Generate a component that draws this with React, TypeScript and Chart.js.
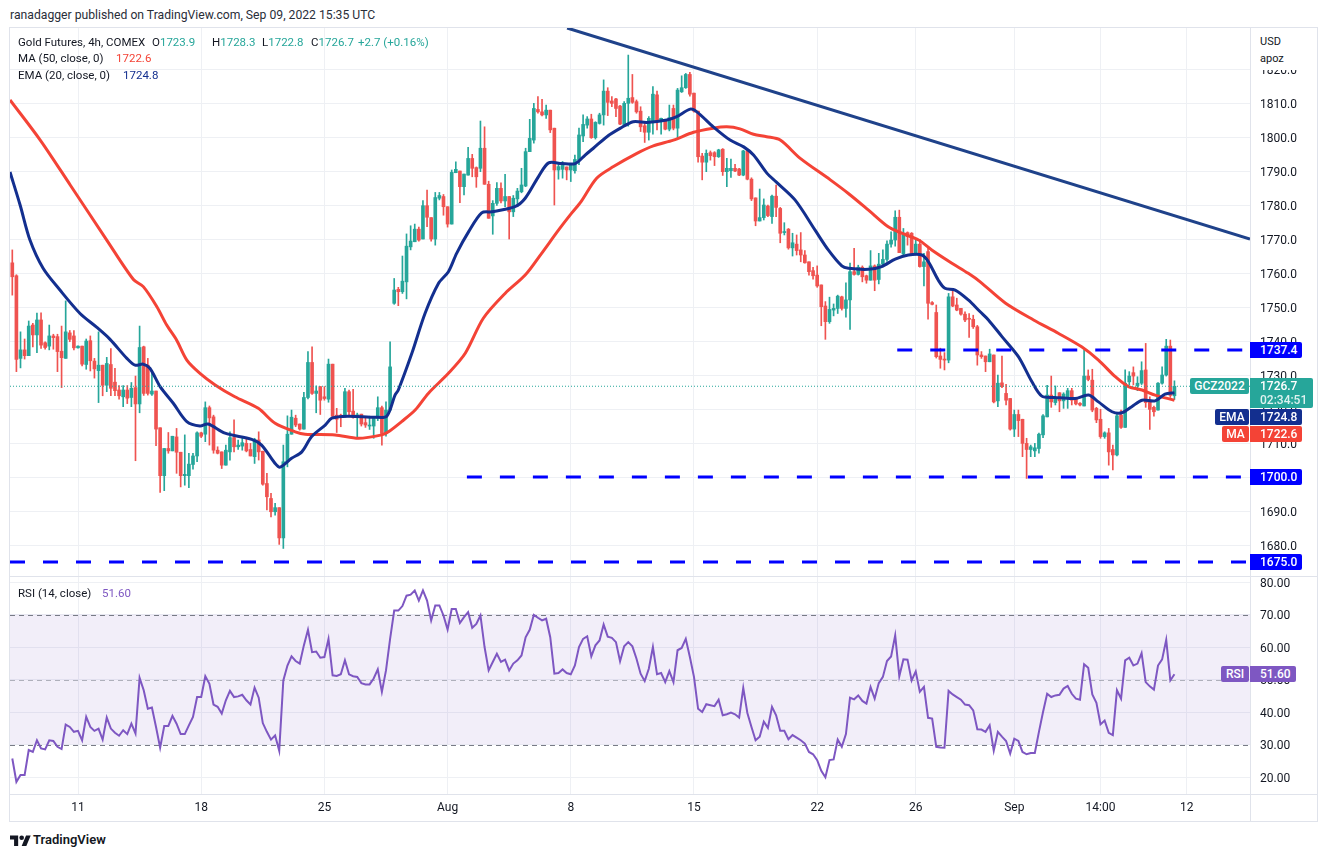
import React, { useEffect, useRef } from "react";
import { Chart, registerables } from "chart.js";

Chart.register(...registerables);

// ---------------- DATA ----------------
const candleOpen = [
  1763.0,1759.2,1734.9,1737.4,1735.7,1744.7,1741.8,1746.2,1739.5,1738.5,
  1741.5,1741.3,1737.0,1734.9,1742.4,1741.5,1738.0,1738.5,1733.1,1740.1,
  1734.1,1731.3,1732.9,1727.0,1733.1,1727.9,1725.6,1723.6,1725.6,1723.4,
  1726.3,1721.5,1738.3,1732.9,1724.4,1725.3,1714.5,1700.4,1708.4,1707.7,
  1711.8,1707.3,1700.4,1700.4,1703.7,1706.2,1713.0,1712.6,1720.4,1717.7,
  1707.9,1707.4,1703.5,1707.4,1711.6,1708.9,1709.1,1709.9,1708.1,1706.0,
  1710.9,1707.6,1698.1,1693.7,1689.8,1691.0,1682.1,1704.5,1712.6,1717.3,
  1715.6,1714.1,1723.4,1733.7,1724.6,1726.6,1723.6,1722.9,1733.2,1718.2,
  1718.2,1718.2,1725.1,1719.4,1718.0,1718.5,1716.0,1715.0,1715.0,1717.3,
  1720.4,1712.8,1719.7,1751.1,1755.2,1754.5,1757.4,1767.7,1769.2,1772.9,
  1770.0,1779.8,1776.3,1770.0,1782.0,1782.5,1779.5,1774.4,1789.5,1790.0,
  1785.4,1788.8,1793.7,1791.0,1790.8,1796.7,1786.1,1776.8,1780.5,1784.9,
  1781.2,1782.5,1778.0,1781.8,1783.9,1785.6,1795.7,1799.1,1808.1,1807.4,
  1806.5,1807.9,1802.6,1790.3,1790.5,1791.2,1790.3,1790.1,1793.2,1800.3,
  1803.5,1805.3,1799.8,1804.0,1806.5,1813.5,1810.6,1811.2,1809.1,1803.7,
  1809.9,1811.6,1810.4,1807.6,1803.3,1801.4,1804.5,1812.4,1804.5,1805.0,
  1802.3,1808.4,1802.6,1813.3,1814.5,1818.4,1812.9,1807.6,1794.4,1792.6,
  1795.4,1795.4,1794.2,1796.4,1789.8,1790.1,1790.8,1790.6,1788.8,1795.9,
  1787.6,1782.1,1775.3,1776.3,1779.7,1776.6,1782.6,1779.0,1771.9,1772.9,
  1767.4,1768.5,1766.8,1765.3,1763.3,1760.7,1759.4,1756.5,1750.3,1745.7,
  1749.1,1749.6,1753.0,1749.6,1752.1,1760.4,1759.6,1761.7,1759.2,1757.9,
  1762.1,1758.1,1762.6,1764.0,1768.5,1769.7,1776.4,1765.6,1771.9,1771.7,
  1765.6,1768.5,1761.9,1766.3,1751.3,1748.4,1735.6,1734.7,1734.4,1753.0,
  1750.6,1749.6,1747.9,1746.7,1746.4,1744.2,1735.9,1735.6,1733.9,1735.9,
  1722.4,1727.7,1724.6,1723.1,1714.1,1718.4,1717.0,1709.9,1708.1,1707.7,
  1708.4,1712.4,1717.7,1724.1,1721.9,1724.8,1722.4,1723.1,1725.4,1722.9,
  1721.7,1720.9,1729.7,1728.5,1720.2,1717.0,1711.9,1713.0,1708.1,1706.5,
  1718.2,1714.6,1728.0,1730.7,1726.9,1727.6,1731.5,1722.1,1720.5,1719.7,
  1727.6,1730.0,1738.5,1723.9
];
const candleHigh = [
  1766.8,1759.5,1742.7,1740.6,1745.9,1745.2,1748.2,1748.3,1739.8,1744.7,
  1742.0,1742.0,1744.4,1751.8,1743.1,1743.1,1738.6,1738.5,1740.6,1741.5,
  1734.9,1742.7,1732.9,1735.2,1737.8,1732.0,1726.9,1726.9,1726.9,1727.8,
  1729.7,1744.4,1738.5,1734.9,1731.3,1725.3,1714.5,1708.4,1713.1,1712.0,
  1714.3,1707.3,1712.4,1707.0,1707.0,1713.3,1713.2,1722.1,1720.9,1718.2,
  1708.9,1707.4,1709.4,1713.3,1716.8,1710.9,1711.4,1711.4,1709.9,1711.4,
  1713.3,1707.6,1701.1,1695.2,1692.3,1691.0,1709.4,1718.0,1719.7,1718.2,
  1715.6,1724.9,1736.9,1738.3,1726.8,1726.6,1726.6,1734.7,1733.2,1720.2,
  1718.5,1726.1,1725.6,1725.8,1718.8,1718.5,1717.7,1717.9,1717.6,1723.6,
  1720.9,1722.1,1739.8,1758.4,1755.8,1765.0,1771.5,1773.9,1774.4,1773.5,
  1781.3,1784.4,1776.3,1783.7,1783.7,1783.1,1779.5,1790.3,1792.7,1790.0,
  1789.1,1797.0,1794.9,1791.2,1804.7,1803.0,1787.0,1781.3,1786.6,1786.5,
  1789.0,1782.5,1782.8,1784.9,1790.8,1796.7,1805.2,1809.9,1811.9,1811.1,
  1809.4,1807.9,1802.6,1792.3,1792.8,1791.2,1792.1,1794.7,1802.6,1806.5,
  1806.0,1806.7,1804.5,1807.0,1816.8,1814.5,1811.9,1811.4,1809.3,1810.4,
  1824.1,1818.4,1810.9,1808.9,1804.0,1806.0,1814.8,1813.5,1805.6,1805.2,
  1809.4,1809.4,1814.3,1818.0,1818.7,1819.0,1812.9,1807.6,1795.2,1796.2,
  1795.9,1795.7,1796.4,1796.6,1793.7,1793.5,1792.0,1790.8,1796.1,1796.2,
  1788.0,1782.1,1784.7,1781.8,1780.0,1782.9,1785.9,1779.3,1774.8,1773.1,
  1771.7,1771.2,1771.9,1766.6,1763.3,1761.7,1762.1,1756.5,1751.6,1752.9,
  1750.9,1753.5,1753.2,1757.1,1762.9,1767.3,1762.3,1762.1,1759.4,1766.6,
  1762.4,1765.8,1766.8,1769.5,1772.1,1778.3,1778.5,1773.1,1772.1,1771.9,
  1770.2,1769.9,1765.8,1767.3,1751.6,1750.6,1737.9,1736.6,1754.0,1755.5,
  1752.6,1749.6,1748.6,1748.1,1747.6,1744.6,1736.9,1735.6,1737.6,1735.9,
  1730.0,1735.6,1727.3,1723.1,1719.7,1719.7,1717.0,1711.4,1709.4,1709.9,
  1712.9,1718.4,1727.0,1729.7,1726.8,1724.8,1724.8,1726.1,1726.1,1722.9,
  1721.9,1737.4,1731.5,1731.7,1720.5,1719.9,1713.3,1714.3,1709.4,1718.5,
  1719.7,1731.5,1731.0,1732.4,1729.5,1733.9,1739.3,1723.6,1720.9,1727.8,
  1732.4,1740.5,1740.3,1728.3
];
const candleLow = [
  1753.5,1731.0,1732.1,1734.7,1735.7,1738.3,1736.6,1737.8,1737.6,1737.4,
  1737.6,1731.0,1726.3,1734.9,1739.8,1737.4,1737.9,1732.7,1731.7,1731.2,
  1729.1,1721.9,1723.9,1725.1,1723.9,1723.9,1722.9,1720.7,1721.6,1720.7,
  1704.8,1718.9,1724.0,1724.1,1724.0,1709.2,1695.5,1696.0,1707.0,1707.7,
  1701.1,1697.1,1697.6,1696.9,1702.3,1704.5,1711.6,1710.4,1709.4,1707.0,
  1706.8,1702.5,1703.5,1705.0,1707.4,1708.1,1707.9,1707.4,1706.2,1704.0,
  1705.0,1697.6,1690.3,1688.3,1688.8,1680.2,1679.0,1703.0,1712.6,1714.8,
  1713.8,1714.1,1723.0,1724.3,1718.9,1718.4,1722.6,1722.0,1717.6,1713.1,
  1714.8,1717.6,1717.7,1717.3,1711.7,1715.0,1714.6,1714.0,1711.4,1716.6,
  1709.4,1712.0,1719.7,1750.8,1750.4,1754.0,1752.4,1766.8,1769.2,1769.4,
  1770.0,1773.6,1769.4,1768.2,1781.5,1777.0,1773.5,1774.4,1789.5,1780.7,
  1783.0,1788.8,1788.3,1785.2,1789.8,1786.1,1776.1,1771.4,1779.9,1780.6,
  1779.5,1770.0,1776.6,1779.5,1783.6,1785.4,1795.7,1798.2,1807.0,1806.2,
  1805.5,1801.3,1780.0,1787.6,1787.9,1787.4,1786.9,1789.4,1791.9,1798.6,
  1802.6,1799.6,1799.4,1803.8,1803.5,1806.3,1808.9,1806.0,1803.6,1803.5,
  1803.2,1809.9,1807.0,1801.6,1798.4,1799.1,1800.8,1802.1,1800.8,1802.1,
  1801.8,1802.1,1799.6,1813.1,1814.3,1812.0,1807.3,1792.6,1787.4,1789.8,
  1793.2,1791.6,1794.0,1788.7,1785.4,1788.1,1789.8,1788.6,1788.6,1787.4,
  1781.3,1773.9,1775.3,1775.6,1776.6,1774.6,1776.6,1768.9,1771.2,1767.0,
  1765.0,1765.3,1763.3,1762.9,1759.4,1758.2,1755.8,1744.5,1740.5,1745.2,
  1747.4,1748.1,1749.1,1747.0,1743.4,1759.4,1759.4,1757.4,1757.0,1757.9,
  1754.8,1756.8,1762.3,1763.4,1767.6,1767.9,1766.0,1765.3,1768.2,1765.6,
  1765.3,1761.7,1756.2,1746.4,1750.6,1735.0,1732.0,1731.5,1733.6,1750.1,
  1748.9,1747.6,1745.7,1741.1,1743.7,1732.9,1734.9,1731.0,1733.9,1721.8,
  1720.7,1726.3,1721.2,1713.8,1711.9,1711.9,1706.0,1699.6,1706.0,1706.0,
  1707.0,1711.6,1717.7,1720.5,1721.2,1719.2,1720.2,1720.2,1721.2,1721.2,
  1720.9,1720.9,1728.3,1719.2,1716.0,1711.4,1711.4,1703.5,1702.1,1706.2,
  1714.3,1714.6,1727.1,1727.1,1725.4,1727.2,1720.5,1714.0,1717.9,1719.7,
  1727.3,1729.7,1723.4,1722.8
];
const candleClose = [
  1758.9,1734.6,1737.4,1735.7,1744.4,1741.8,1746.2,1738.8,1738.1,1741.5,
  1741.0,1736.9,1735.1,1742.7,1740.5,1738.0,1738.5,1733.2,1740.0,1734.2,
  1731.8,1732.9,1727.0,1733.4,1726.1,1725.4,1723.9,1725.6,1723.2,1726.1,
  1721.5,1738.1,1724.6,1724.6,1725.3,1714.1,1700.4,1708.4,1707.7,1712.0,
  1707.3,1700.4,1700.8,1703.8,1706.2,1713.0,1712.0,1720.4,1717.4,1707.9,
  1707.0,1703.5,1707.9,1711.6,1708.9,1709.4,1710.1,1707.7,1706.2,1711.1,
  1707.4,1697.9,1694.2,1689.8,1691.0,1682.1,1704.5,1712.6,1717.6,1715.3,
  1714.1,1723.4,1733.7,1724.6,1725.3,1722.6,1723.1,1733.2,1717.9,1717.0,
  1717.7,1725.1,1719.2,1717.6,1718.3,1715.6,1715.3,1715.3,1717.6,1720.4,
  1712.8,1719.7,1732.4,1755.0,1754.5,1757.6,1767.9,1769.4,1772.9,1769.7,
  1779.8,1776.4,1770.0,1782.2,1782.8,1779.5,1774.4,1789.6,1790.5,1785.4,
  1789.1,1793.7,1790.8,1788.3,1796.7,1786.1,1776.1,1780.5,1784.9,1781.2,
  1782.5,1778.0,1782.0,1784.1,1785.9,1795.7,1799.6,1808.4,1807.4,1806.5,
  1807.9,1802.1,1790.3,1791.3,1792.1,1790.3,1792.1,1793.4,1800.6,1803.7,
  1805.3,1799.8,1804.3,1806.5,1813.5,1810.2,1809.9,1808.4,1803.8,1809.9,
  1811.4,1810.2,1807.4,1803.0,1801.4,1805.5,1812.6,1804.5,1805.5,1802.3,
  1805.7,1802.6,1813.8,1814.5,1818.4,1812.6,1807.6,1794.2,1792.6,1795.2,
  1794.5,1794.2,1796.2,1789.8,1790.8,1790.8,1790.0,1788.8,1795.9,1787.6,
  1781.8,1775.3,1776.3,1780.0,1776.9,1782.6,1779.3,1771.7,1772.1,1767.4,
  1768.9,1766.6,1765.3,1763.0,1760.4,1759.2,1756.2,1750.1,1745.7,1749.3,
  1749.6,1753.2,1749.6,1752.1,1760.4,1759.6,1761.7,1758.9,1757.9,1762.1,
  1757.9,1762.6,1764.0,1768.5,1769.7,1776.4,1766.0,1771.7,1770.7,1765.6,
  1768.5,1761.9,1763.3,1751.1,1750.8,1735.4,1734.6,1734.4,1753.0,1750.3,
  1749.1,1747.9,1746.2,1746.4,1744.2,1735.9,1735.4,1733.9,1736.2,1722.1,
  1727.6,1726.6,1722.6,1714.1,1718.4,1716.6,1709.9,1708.1,1708.9,1708.6,
  1712.6,1718.0,1724.1,1722.1,1722.9,1722.4,1724.4,1725.4,1722.6,1721.5,
  1721.2,1729.7,1728.7,1719.7,1716.8,1711.9,1713.0,1707.4,1706.5,1718.0,
  1714.6,1727.6,1729.7,1729.7,1727.6,1731.3,1721.9,1719.9,1719.2,1727.6,
  1730.0,1738.5,1724.0,1726.7
];

// MA (50), x = bar index
const maX = [-0.56,6.8,14.1,23,29.5,31.9,35.2,37.6,40,42.5,45.7,49.4,54.2,59.9,64,68.9,71.3,78.6,84.3,90,91.6,94.8,98.1,101.3,106.2,110.3,114.7,120,124.9,128.9,133,136.2,138.5,142.3,146.4,152.1,156.1,161,165.9,170.7,174,177.2,180.5,183.7,187,191.8,199.2,203.6,208.5,213.3,216.6,220.7,223.9,228.8,232.8,235.7,241.8,248.7,254.7,260.4,264.5,268.6,271.8,275.1,278.3,283];
const maY = [1810.9,1799.1,1785.9,1769.7,1758.1,1756,1750.1,1744.7,1740.3,1734.4,1730.5,1727.1,1723.6,1720.2,1715.8,1713.3,1712.6,1712.4,1711.4,1712.4,1713.3,1716.3,1719.7,1724.6,1730.5,1736.4,1746.7,1754,1759.4,1765.8,1772.6,1777.6,1781,1787.9,1791.3,1795.2,1797.4,1799.1,1801.4,1802.6,1803,1802.4,1800.8,1800.1,1799.1,1793.8,1787.4,1783.4,1778.5,1773.6,1771.7,1769.7,1766.8,1762.9,1759.9,1757.4,1751.2,1746.2,1742.3,1738.3,1734.4,1729.5,1726.6,1725.6,1724.1,1722.6];

// EMA (20), x = bar index
const emaX = [-0.56,1.9,4.3,7.5,11.6,16.5,20.6,23.8,27.9,29.9,31.9,33.5,36,39.2,42.5,45.7,47.7,51.8,58.3,60.7,64,65.2,68,70.5,72.9,76.2,77.8,81.8,88.4,91.2,93.2,94,97.3,100.5,103.8,106.2,108.2,111.1,114.3,116.8,122.4,124.9,128.1,130.6,133.8,137.1,139.5,141.5,144.8,148.1,151.2,154.5,159.4,161.8,165.1,166.7,170.7,174.8,178.1,180.5,183.8,186,190.6,195.5,198.7,202,203.6,208.5,211.7,215,218.2,221.5,223.1,225.5,227.1,229.6,232.8,235.7,237.7,241,245,248.3,250.7,253.9,258.8,262.1,264.5,267.8,270.2,272.6,275.1,278.3,280.7,283];
const emaY = [1789.7,1780,1769.7,1761.4,1755,1748.1,1744,1740.5,1734.9,1732.9,1733.2,1732,1726.6,1721.7,1716.3,1715,1715.6,1712.9,1711.1,1709.4,1704,1702.9,1705.5,1707.4,1711.9,1715.3,1717.3,1717.9,1717.6,1717.9,1724.1,1725.6,1736.4,1748.1,1757,1760.4,1765.8,1772.1,1777.7,1778,1779.5,1782,1788.3,1792.4,1792.2,1792.2,1794.7,1796.7,1800.1,1802.6,1804.5,1804.3,1805,1806,1808.2,1807.4,1803,1799.1,1797.1,1794.7,1789.3,1786.8,1781.5,1772.6,1766.8,1762.1,1761.4,1761.1,1761.9,1764.1,1765.3,1765.3,1763.3,1757.9,1755.5,1755,1752.1,1748.6,1746.2,1741.3,1735.4,1728,1723.8,1723.4,1723.1,1724.1,1722.1,1719.2,1718.9,1720.7,1722.6,1722.4,1724.4,1724.8];

// RSI (14), one value per bar
const rsiValues = [
  25.7,18.5,20.6,20.6,28.3,27.7,31.3,28.8,28.5,31.3,
  31.1,29.3,28.6,36.1,35.4,33.9,34.2,31.3,38.5,35.4,
  34.2,34.9,31.5,38.3,34.9,33.6,32.7,34.4,33.2,36.4,
  33.4,50.5,46.7,41,41.4,35.4,29,35.7,35.7,38.8,
  36.4,33.2,33.2,35.9,38.5,44.6,44.6,51,48.7,42.3,
  41.6,39.5,43.6,46.5,44.6,44.8,45.3,43.6,42.3,47.5,
  44.4,36.6,33.9,31.5,32.8,28.1,49.7,54.3,57.1,55.7,
  54.9,60.5,65.3,58.4,58.6,56.7,56.9,62.5,51.3,51.1,
  51.6,55.9,51.6,51,50.8,48.9,48.5,48.5,50.3,53.1,
  46.2,52.8,62.5,71.2,71.2,72.6,75.8,76.1,77.4,74.3,
  77.4,74.3,68.2,72.8,72.8,69.7,65.4,71.7,71.7,67.4,
  69.2,70.7,65.9,67.1,69.7,60,52.8,55.4,57.9,55.4,
  56.1,52.8,54.9,55.9,57.4,63,65.3,69.9,69,68.2,
  68.7,63,51.8,52,53.1,52,51.6,54.3,60,62.5,
  63.3,57.1,60.5,62,66.9,63.2,62.8,61.5,55.6,60.2,
  61.5,60.2,56.4,51.8,49.5,53.3,60,51.6,52,49.2,
  52.6,49.2,59,59.7,62.5,56.9,50.8,41,40,42.4,
  42.1,41.8,43.8,39,39.3,39.8,39.3,38.3,47.4,39.7,
  35.4,31.3,32.4,37,35.1,41.6,39,34.2,34.2,31.6,
  32.9,32.1,31.3,30.3,27.7,27,25.2,21.9,19.9,25.2,
  25.4,31.5,29.3,33.2,44.4,43.9,45.1,43.4,42.6,47.7,
  44.1,48.9,50.8,55.7,57.1,63.6,51,56.2,56.1,49.7,
  52.5,46.2,47.7,38.2,38,29.3,29.1,29,46.5,45.4,
  44.6,43.8,42.3,42.1,40.5,34.7,34.6,33.9,35.9,28.1,
  33.9,32.4,31.1,27.2,31.8,31.1,27.7,27,27.4,27.4,
  33.9,40,45.6,44.6,45.1,45.3,47.2,48,45.6,44.1,
  43.8,54.7,53.6,45.4,42.8,36.2,37.4,33.6,32.9,46.7,
  44.1,55.9,56.7,54.3,54.9,58.1,49.2,47.9,46.9,54.3,
  56.2,62.2,49.7,51.6
];

// trend line and horizontal levels
const trendX = [135.1, 301.4];
const trendY = [1832.06, 1770.0];
const levelPrices = [1737.4, 1700.0, 1675.0];
const levelStartX = [215.5, 110.7, -0.56];
const rsiBands = [70, 50, 30];

// axis ticks
const priceTicks = [1680,1690,1700,1710,1720,1730,1740,1750,1760,1770,1780,1790,1800,1810,1820];
const rsiTicks = [20,30,40,50,60,70,80];
const dateTickX = [16,46,76,106,136,166,196,220,244,265,286];
const dateTickLabels = ["11","18","25","Aug","8","15","22","26","Sep","14:00","12"];

// ---------------- STYLE ----------------
const FONT = "Roboto, 'Noto Sans', 'DejaVu Sans', sans-serif";
const UP = "#26a69a";
const DOWN = "#ef5350";
const MA_C = "#f44336";
const EMA_C = "#132f8f";
const RSI_C = "#7e57c2";
const LEVEL_C = "#0000ff";
const TREND_C = "#1f428a";
const GRID = "#eef0f4";
const BORDER = "#e0e3eb";
const TEXT = "#131722";

const X_MIN = -0.56, X_MAX = 301.4;
const P_MIN = 1670.9, P_MAX = 1832.06;
const R_MIN = 14.77, R_MAX = 81.54;

const MAIN_TOP = 28, MAIN_H = 548;
const RSI_TOP = 577, RSI_H = 245;
const priceY = (p: number) => MAIN_TOP + (P_MAX - p) * MAIN_H / (P_MAX - P_MIN);

const zeroPad = (s: any) => { s.paddingTop = 0; s.paddingBottom = 0; s.paddingLeft = 0; s.paddingRight = 0; };

function Txt(props: any) {
  const { x, y, children, size = 11.5, color = TEXT, weight = 400 } = props;
  return (
    <div style={{ position: "absolute", left: x, top: y, transform: "translateY(-50%)", fontSize: size, color, fontWeight: weight, whiteSpace: "nowrap", lineHeight: 1, fontFamily: FONT }}>
      {children}
    </div>
  );
}

function Box(props: any) {
  const { l, t, w, h, bg, children, center = false, radius = "0 2px 2px 0" } = props;
  return (
    <div style={{ position: "absolute", left: l, top: t, width: w, height: h, background: bg, color: "#fff", fontFamily: FONT, fontSize: 12, fontWeight: 500, lineHeight: h + "px", paddingLeft: center ? 0 : 10, textAlign: center ? "center" : "left", boxSizing: "border-box", borderRadius: radius, whiteSpace: "nowrap" }}>
      {children}
    </div>
  );
}

export default function App() {
  const mainRef = useRef<HTMLCanvasElement | null>(null);
  const rsiRef = useRef<HTMLCanvasElement | null>(null);

  const n = candleClose.length;
  const lastO = candleOpen[n - 1], lastH = candleHigh[n - 1], lastL = candleLow[n - 1], lastC = candleClose[n - 1];
  const chg = lastC - candleClose[n - 2];
  const chgPct = (chg / candleClose[n - 2]) * 100;
  const maLast = maY[maY.length - 1];
  const emaLast = emaY[emaY.length - 1];
  const rsiLast = rsiValues[rsiValues.length - 1];

  useEffect(() => {
    if (!mainRef.current || !rsiRef.current) return;
    const idx = candleClose.map((_, i) => i);
    const colors = idx.map((i) => (candleClose[i] >= candleOpen[i] ? UP : DOWN));
    const pts = (xs: number[], ys: number[]) => xs.map((x, i) => ({ x, y: ys[i] }));

    const levelSets = levelPrices.map((p, k) => ({
      type: "line",
      data: [{ x: levelStartX[k], y: p }, { x: X_MAX, y: p }],
      borderColor: LEVEL_C, borderWidth: 3, borderDash: [15, 18], borderCapStyle: "butt",
      pointRadius: 0, order: 0,
    }));

    const main = new Chart(mainRef.current, {
      type: "bar",
      data: {
        datasets: [
          ...levelSets,
          { type: "line", data: [{ x: X_MIN, y: lastC }, { x: X_MAX, y: lastC }], borderColor: UP, borderWidth: 1, borderDash: [1, 2], pointRadius: 0, order: 1 },
          { type: "line", data: pts(trendX, trendY), borderColor: TREND_C, borderWidth: 3, pointRadius: 0, order: 2 },
          { type: "line", data: pts(emaX, emaY), borderColor: EMA_C, borderWidth: 3, pointRadius: 0, tension: 0.3, order: 3 },
          { type: "line", data: pts(maX, maY), borderColor: MA_C, borderWidth: 3, pointRadius: 0, tension: 0.3, order: 4 },
          { type: "bar", data: idx.map((i) => ({ x: i, y: [candleOpen[i], candleClose[i]] })), backgroundColor: colors, barThickness: 3, minBarLength: 1, grouped: false, borderWidth: 0, borderSkipped: false, order: 5 },
          { type: "bar", data: idx.map((i) => ({ x: i, y: [candleLow[i], candleHigh[i]] })), backgroundColor: colors, barThickness: 1, grouped: false, borderWidth: 0, borderSkipped: false, order: 6 },
        ] as any,
      },
      options: {
        animation: false, responsive: false, maintainAspectRatio: false, events: [],
        layout: { padding: 0 },
        plugins: { legend: { display: false }, tooltip: { enabled: false } },
        scales: {
          x: {
            type: "linear", min: X_MIN, max: X_MAX, offset: false,
            afterBuildTicks: (s: any) => { s.ticks = dateTickX.map((v) => ({ value: v })); },
            afterFit: (s: any) => { s.height = 0; zeroPad(s); },
            ticks: { display: false },
            grid: { color: GRID, drawTicks: false, offset: false },
            border: { display: false },
          },
          y: {
            type: "linear", position: "right", min: P_MIN, max: P_MAX, beginAtZero: false,
            afterBuildTicks: (s: any) => { s.ticks = priceTicks.map((v) => ({ value: v })); },
            afterFit: (s: any) => { s.width = 68; zeroPad(s); },
            ticks: { color: TEXT, font: { family: FONT, size: 12 }, padding: 10, labelOffset: 1.5, callback: (v: any) => Number(v).toFixed(1) },
            grid: { color: GRID, drawTicks: false },
            border: { display: false },
          },
        },
      } as any,
    });

    const bandPlugin = {
      id: "rsiBand",
      beforeDatasetsDraw(chart: any) {
        const { ctx, chartArea, scales } = chart;
        const y = scales.y;
        const top = y.getPixelForValue(rsiBands[0]);
        const bot = y.getPixelForValue(rsiBands[2]);
        ctx.save();
        ctx.fillStyle = "rgba(126,87,194,0.1)";
        ctx.fillRect(chartArea.left, top, chartArea.right - chartArea.left, bot - top);
        ctx.lineWidth = 1;
        ctx.setLineDash([5, 4]);
        rsiBands.forEach((v, k) => {
          const py = Math.round(y.getPixelForValue(v)) + 0.5;
          ctx.strokeStyle = k === 1 ? "rgba(120,123,134,0.55)" : "#787b86";
          ctx.beginPath();
          ctx.moveTo(chartArea.left, py);
          ctx.lineTo(chartArea.right, py);
          ctx.stroke();
        });
        ctx.restore();
      },
    };

    const rsi = new Chart(rsiRef.current, {
      type: "line",
      data: {
        datasets: [
          { data: rsiValues.map((v, i) => ({ x: i, y: v })), borderColor: RSI_C, borderWidth: 2, pointRadius: 0, tension: 0 },
        ],
      },
      options: {
        animation: false, responsive: false, maintainAspectRatio: false, events: [],
        layout: { padding: 0 },
        plugins: { legend: { display: false }, tooltip: { enabled: false } },
        scales: {
          x: {
            type: "linear", min: X_MIN, max: X_MAX, offset: false,
            afterBuildTicks: (s: any) => { s.ticks = dateTickX.map((v) => ({ value: v })); },
            afterFit: (s: any) => { s.height = 28; zeroPad(s); },
            ticks: {
              color: TEXT, font: { family: FONT, size: 12 }, padding: 7, autoSkip: false, maxRotation: 0,
              callback: (v: any) => { const k = dateTickX.indexOf(Number(v)); return k >= 0 ? dateTickLabels[k] : ""; },
            },
            grid: { color: GRID, drawTicks: false, offset: false },
            border: { display: false },
          },
          y: {
            type: "linear", position: "right", min: R_MIN, max: R_MAX,
            afterBuildTicks: (s: any) => { s.ticks = rsiTicks.map((v) => ({ value: v })); },
            afterFit: (s: any) => { s.width = 68; zeroPad(s); },
            ticks: { color: TEXT, font: { family: FONT, size: 12 }, padding: 10, labelOffset: 1.5, callback: (v: any) => Number(v).toFixed(2) },
            grid: { color: GRID, drawTicks: false },
            border: { display: false },
          },
        },
      } as any,
      plugins: [bandPlugin],
    });

    return () => { main.destroy(); rsi.destroy(); };
  }, []);

  const lineDiv = (l: number, t: number, w: number, h: number) => (
    <div style={{ position: "absolute", left: l, top: t, width: w, height: h, background: BORDER }} />
  );

  return (
    <div style={{ position: "absolute", left: 0, top: 0, width: 1328, height: 857, background: "#fff", overflow: "hidden", fontFamily: FONT }}>
      <Txt x={10} y={15} size={12.2} color="#2a2e39">ranadagger published on TradingView.com, Sep 09, 2022 15:35 UTC</Txt>

      <canvas ref={mainRef} width={1308} height={MAIN_H} style={{ position: "absolute", left: 10, top: MAIN_TOP, width: 1308, height: MAIN_H }} />
      <canvas ref={rsiRef} width={1308} height={RSI_H} style={{ position: "absolute", left: 10, top: RSI_TOP, width: 1308, height: RSI_H }} />

      {/* frame */}
      <div style={{ position: "absolute", left: 9, top: 27, width: 1309, height: 795, border: "1px solid " + BORDER, boxSizing: "border-box" }} />
      {lineDiv(10, 576, 1307, 1)}
      {lineDiv(10, 794, 1307, 1)}
      {lineDiv(1250, 28, 1, 793)}

      {/* price scale header */}
      <div style={{ position: "absolute", left: 1251, top: 28, width: 66, height: 42, background: "#fff" }} />
      <Txt x={1260} y={41} size={11}>USD</Txt>
      <Txt x={1260} y={58} size={11}>apoz</Txt>

      {/* legend */}
      <Txt x={18} y={43}>Gold Futures, 4h, COMEX</Txt>
      <Txt x={152} y={43}>O<span style={{ color: UP }}>{lastO.toFixed(1)}</span></Txt>
      <Txt x={212} y={43}>H<span style={{ color: UP }}>{lastH.toFixed(1)}</span></Txt>
      <Txt x={262} y={43}>L<span style={{ color: UP }}>{lastL.toFixed(1)}</span></Txt>
      <Txt x={311} y={43}>C<span style={{ color: UP }}>{lastC.toFixed(1)}</span></Txt>
      <Txt x={358} y={43} color={UP}>{(chg >= 0 ? "+" : "") + chg.toFixed(1) + " (" + (chgPct >= 0 ? "+" : "") + chgPct.toFixed(2) + "%)"}</Txt>
      <Txt x={18} y={59}>MA (50, close, 0)</Txt>
      <Txt x={116} y={59} color={MA_C}>{maLast.toFixed(1)}</Txt>
      <Txt x={18} y={76}>EMA (20, close, 0)</Txt>
      <Txt x={123} y={76} color={EMA_C}>{emaLast.toFixed(1)}</Txt>

      <Txt x={18} y={594}>RSI (14, close)</Txt>
      <Txt x={102} y={594} color={RSI_C}>{rsiLast.toFixed(2)}</Txt>

      {/* price scale labels */}
      {levelPrices.map((p, k) => (
        <Box key={k} l={1250} t={Math.round(priceY(p)) - 8} w={52} h={16} bg={LEVEL_C}>{p.toFixed(1)}</Box>
      ))}
      <Box l={1190} t={378} w={59} h={16} bg={UP} center radius="2px">GCZ2022</Box>
      <div style={{ position: "absolute", left: 1250, top: 378, width: 63, height: 30, background: UP, color: "#fff", fontFamily: FONT, fontSize: 12, fontWeight: 500, borderRadius: "0 2px 2px 0" }}>
        <div style={{ position: "absolute", left: 10, top: 2, lineHeight: "13px" }}>{lastC.toFixed(1)}</div>
        <div style={{ position: "absolute", left: 10, top: 16, lineHeight: "13px", color: "rgba(255,255,255,0.85)" }}>02:34:51</div>
      </div>
      <Box l={1215} t={409} w={34} h={16} bg={EMA_C} center radius="2px">EMA</Box>
      <Box l={1250} t={409} w={52} h={16} bg={EMA_C}>{emaLast.toFixed(1)}</Box>
      <Box l={1222} t={426} w={27} h={16} bg={MA_C} center radius="2px">MA</Box>
      <Box l={1250} t={426} w={52} h={16} bg={MA_C}>{maLast.toFixed(1)}</Box>
      <Box l={1221} t={666} w={28} h={16} bg={RSI_C} center radius="2px">RSI</Box>
      <Box l={1250} t={666} w={46} h={16} bg={RSI_C}>{rsiLast.toFixed(2)}</Box>

      {/* footer logo */}
      <svg style={{ position: "absolute", left: 10, top: 833 }} width="21" height="13" viewBox="0 0 36 22">
        <path d="M14 22H7V11H0V4h14v18zM28 22h-8l7.5-18h8L28 22z" fill={TEXT} />
        <circle cx="20" cy="8" r="4" fill={TEXT} />
      </svg>
      <Txt x={33} y={839} size={13} weight={600}>TradingView</Txt>
    </div>
  );
}
